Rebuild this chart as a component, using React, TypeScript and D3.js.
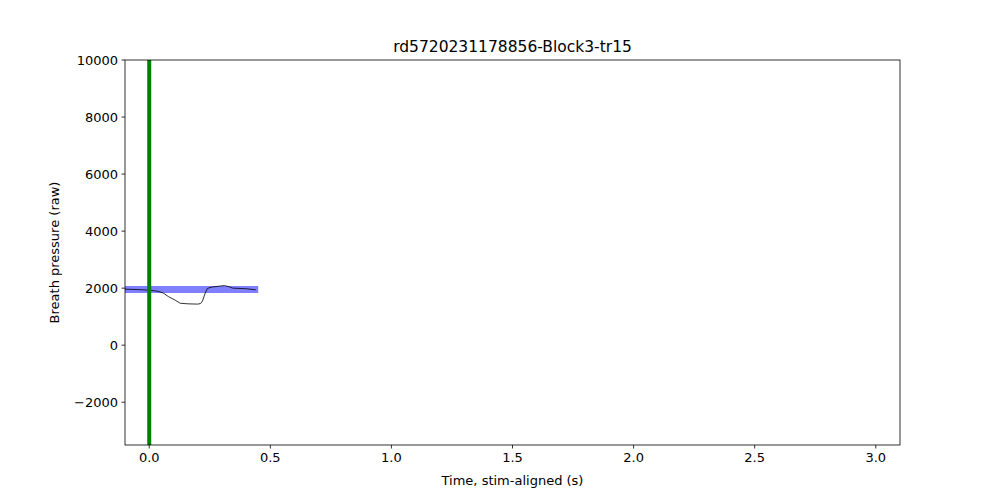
import * as d3 from "d3";

const traceT = [-0.1, -0.05, 0, 0.03, 0.057, 0.08, 0.107, 0.128, 0.16, 0.2, 0.212, 0.22, 0.23, 0.24, 0.26, 0.29, 0.31, 0.33, 0.345, 0.4, 0.44];
const traceV = [1965, 1950, 1930, 1900, 1835, 1700, 1580, 1470, 1450, 1440, 1460, 1550, 1800, 1990, 2040, 2070, 2090, 2050, 2000, 1980, 1940];
const bandT = [-0.1, 0.45];
const bandV = 1950;
const xTicks = [0, 0.5, 1, 1.5, 2, 2.5, 3];
const yTicks = [-2000, 0, 2000, 4000, 6000, 8000, 10000];

export default function App() {
  const m = { l: 125, r: 900, t: 60, b: 445 };
  const x = d3.scaleLinear().domain([-0.1, 3.1]).range([m.l, m.r]);
  const y = d3.scaleLinear().domain([-3500, 10000]).range([m.b, m.t]);
  const line = d3.line<number>().x((_, i) => x(traceT[i])).y((v) => y(v));
  const fmt = (v: number) => (v < 0 ? "\u2212" + Math.abs(v) : String(v));
  return (
    <svg width={1000} height={500} style={{ position: "absolute", left: 0, top: 0, fontFamily: "DejaVu Sans" }}>
      <rect width={1000} height={500} fill="white" />
      <defs>
        <clipPath id="c"><rect x={m.l} y={m.t} width={m.r - m.l} height={m.b - m.t} /></clipPath>
      </defs>
      <g clipPath="url(#c)">
        <line x1={x(bandT[0])} x2={x(bandT[1])} y1={y(bandV)} y2={y(bandV)} stroke="blue" strokeOpacity={0.5} strokeWidth={7} />
        <path d={line(traceV) ?? ""} fill="none" stroke="black" strokeWidth={0.8} />
        <line x1={x(0)} x2={x(0)} y1={m.t} y2={m.b} stroke="green" strokeWidth={4} />
      </g>
      <rect x={m.l} y={m.t} width={m.r - m.l} height={m.b - m.t} fill="none" stroke="black" strokeWidth={0.8} />
      {xTicks.map((t) => (
        <g key={t}>
          <line x1={x(t)} x2={x(t)} y1={m.b} y2={m.b + 3.5} stroke="black" strokeWidth={0.8} />
          <text x={x(t)} y={m.b + 17} fontSize={13} textAnchor="middle">{t.toFixed(1)}</text>
        </g>
      ))}
      {yTicks.map((t) => (
        <g key={t}>
          <line x1={m.l - 3.5} x2={m.l} y1={y(t)} y2={y(t)} stroke="black" strokeWidth={0.8} />
          <text x={m.l - 7} y={y(t) + 4.5} fontSize={13} textAnchor="end">{fmt(t)}</text>
        </g>
      ))}
      <text x={(m.l + m.r) / 2} y={485} fontSize={13} textAnchor="middle">Time, stim-aligned (s)</text>
      <text transform={`translate(59,${(m.t + m.b) / 2}) rotate(-90)`} fontSize={13} textAnchor="middle">Breath pressure (raw)</text>
      <text x={(m.l + m.r) / 2} y={52} fontSize={15.5} textAnchor="middle">rd5720231178856-Block3-tr15</text>
    </svg>
  );
}
